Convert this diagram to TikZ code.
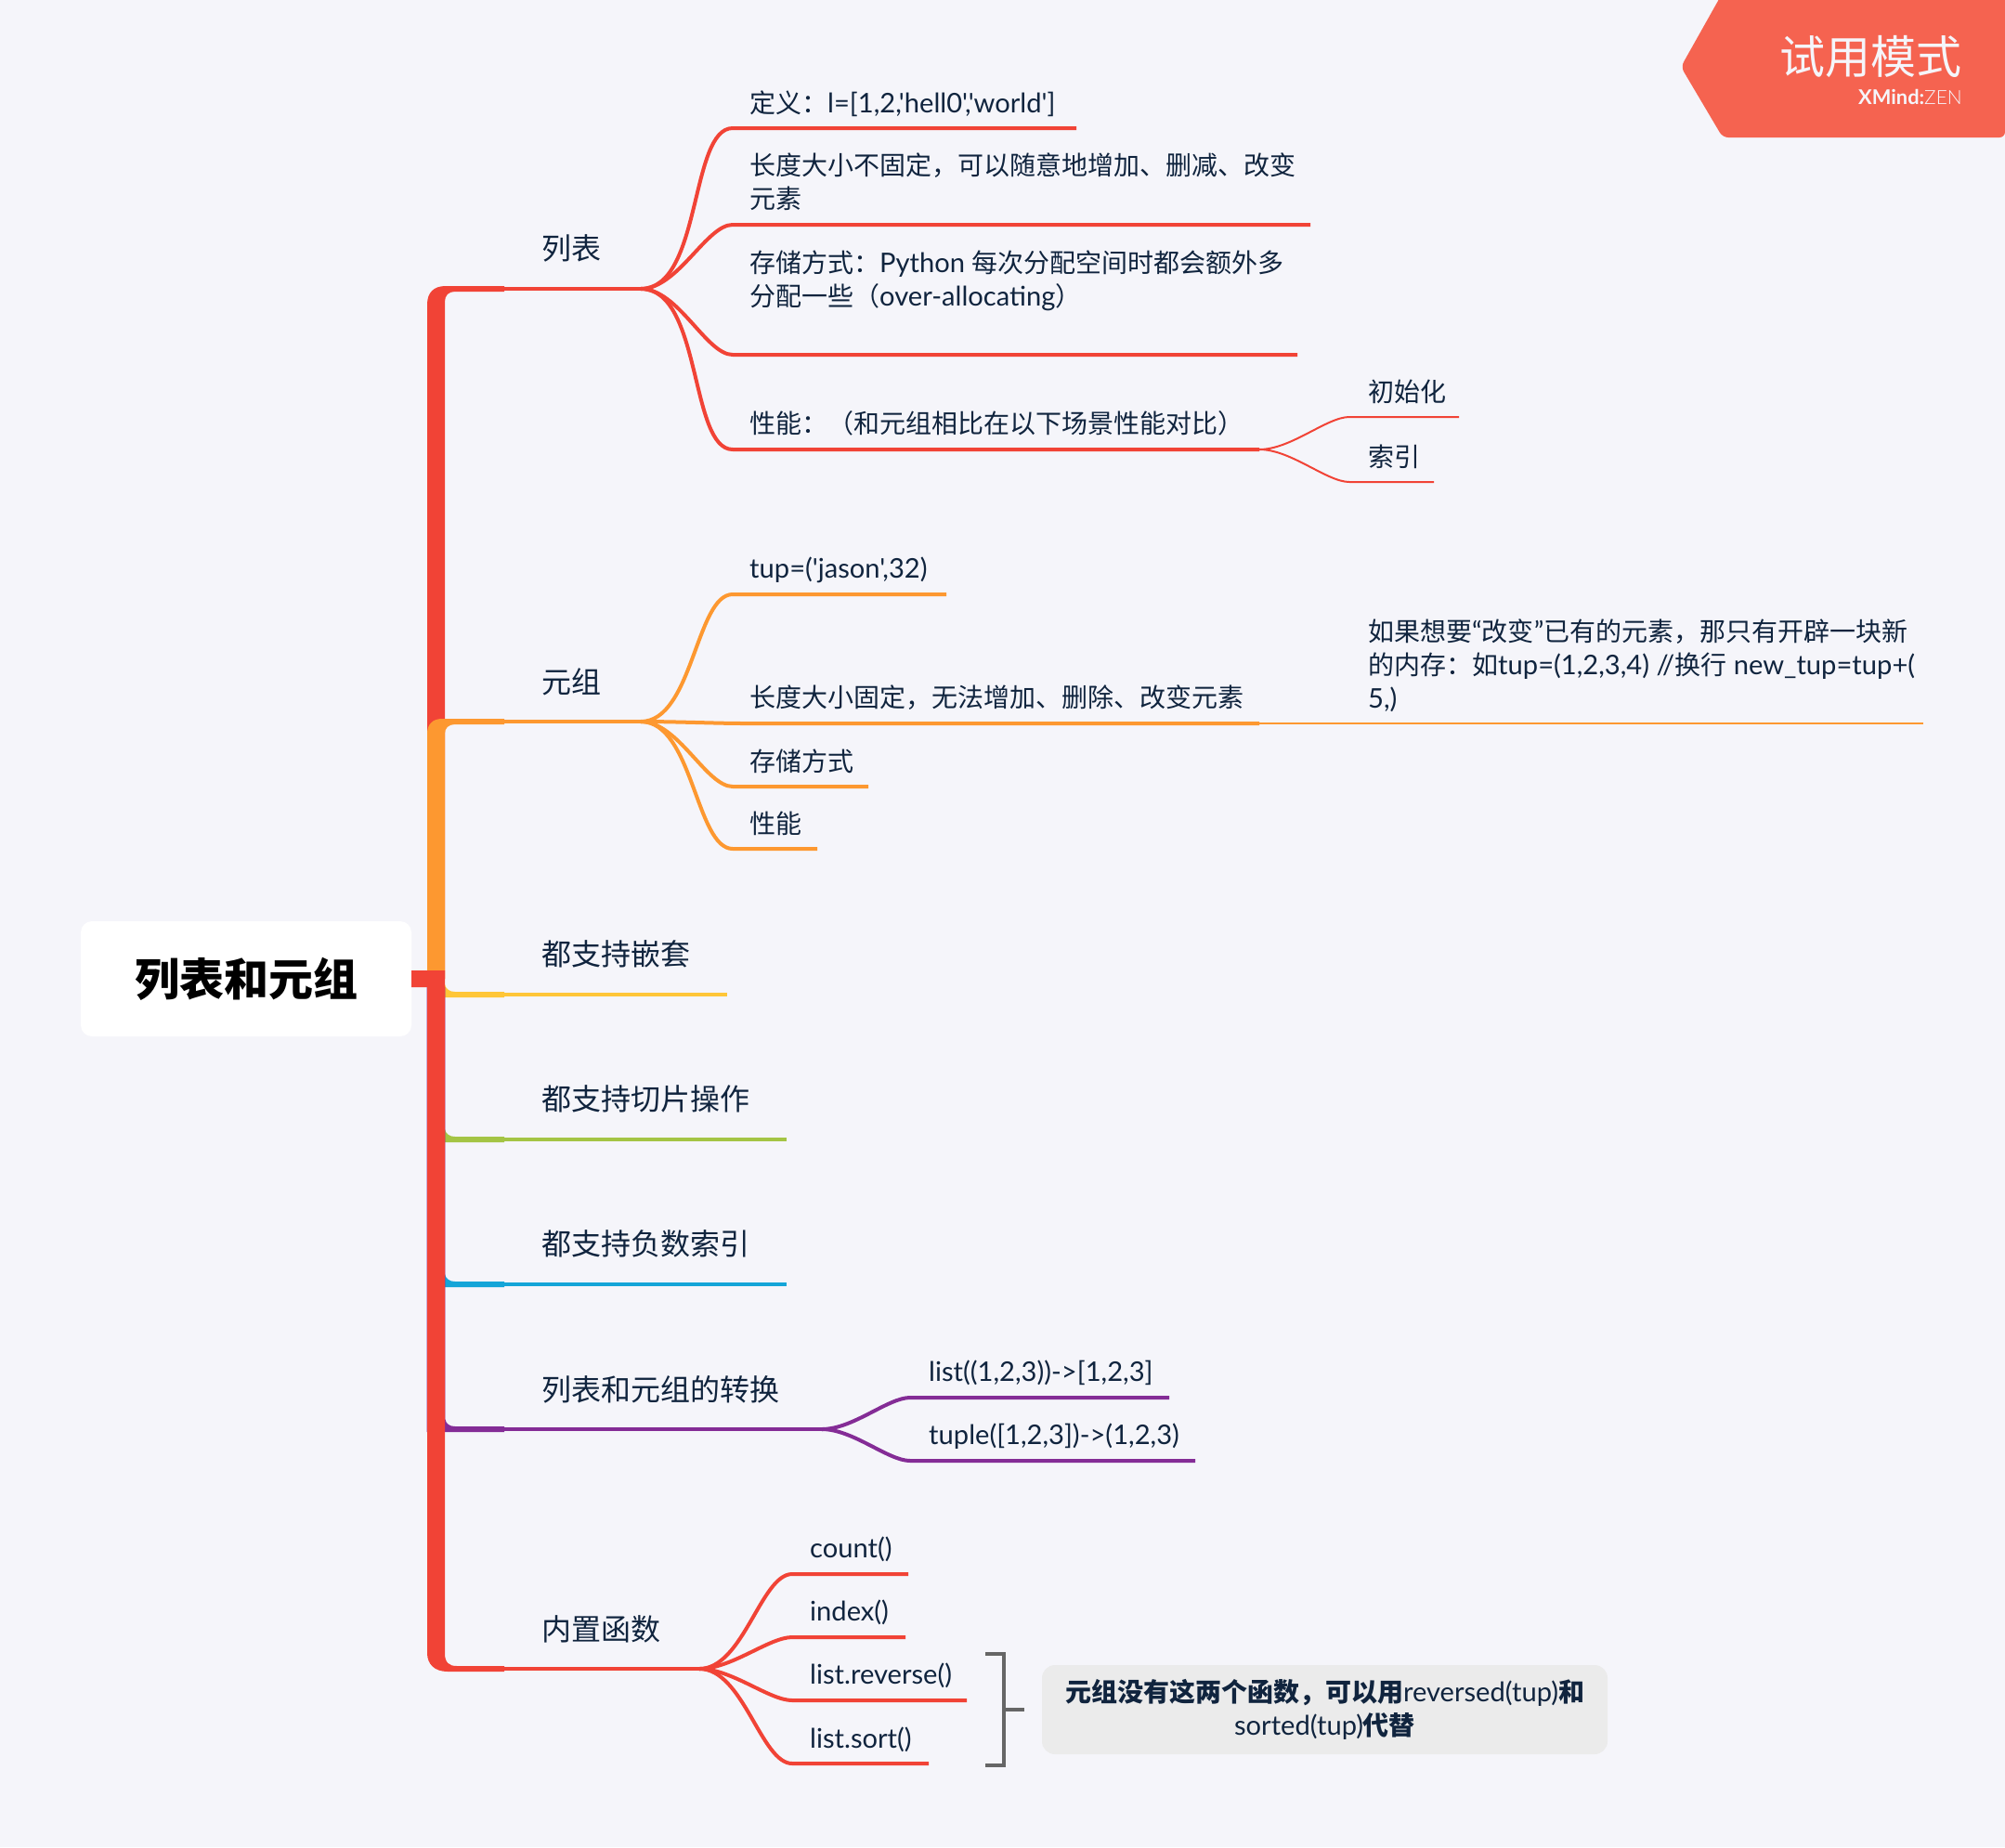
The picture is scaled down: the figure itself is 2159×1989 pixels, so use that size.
\documentclass[tikz,border=0pt]{standalone}
\usepackage{fontspec}
\newfontfamily\latin[Scale=1.04]{Lato}
\newfontfamily\latinlight{Lato Light}
\newfontfamily\cjk{Noto Sans CJK SC}
\newcommand{\zh}[1]{{\cjk #1}}
\newcommand{\zhcomma}{^^^^ff0c}
\newcommand{\zhcolon}{^^^^ff1a}
\newcommand{\zhlp}{^^^^ff08}
\newcommand{\zhrp}{^^^^ff09}
\definecolor{bgc}{HTML}{F5F5FA}
\definecolor{inkc}{HTML}{10243E}
\definecolor{redc}{HTML}{F14336}
\definecolor{orangec}{HTML}{FD9830}
\definecolor{yellowc}{HTML}{FFC638}
\definecolor{greenc}{HTML}{A4C444}
\definecolor{bluec}{HTML}{14A5D8}
\definecolor{purplec}{HTML}{842C96}
\definecolor{tabc}{HTML}{F56350}
\definecolor{notec}{HTML}{EBEBEB}
\definecolor{bracketc}{HTML}{666666}
\tikzset{
  topic/.style={anchor=west, inner sep=0pt, text=inkc, text height=28pt, text depth=4pt, font=\latin\fontsize{32}{40}\selectfont},
  leaf/.style={anchor=west, inner sep=0pt, text=inkc, text height=22pt, text depth=2pt, font=\latin\fontsize{28}{36}\selectfont},
  longleaf/.style={anchor=west, inner sep=0pt, text=inkc, align=left, font=\latin\fontsize{28}{36}\selectfont},
  subline/.style={line width=4pt},
  thinline/.style={line width=2pt},
  curved/.style={out=0, in=180, out looseness=.85, in looseness=.6},
}
\begin{document}
\begin{tikzpicture}[x=1pt, y=-1pt]
\useasboundingbox (0,0) rectangle (2159,1989);
\fill[bgc] (0,0) rectangle (2159,1989);
% trial tab
\fill[tabc, rounded corners=6pt] (1855,-8) -- (2159,-8) -- (2159,148) -- (1855,148) -- (1810,72) -- cycle;
\node[anchor=east, inner sep=0pt, text=bgc, font=\cjk\fontsize{49}{49}\selectfont] (trial) at (2113,61) {试用模式};
\node[anchor=east, inner sep=0pt, text=bgc, font=\latin\fontsize{21}{21}\selectfont] (brand) at (2113,104) {\textbf{XMind:}{\latinlight ZEN}};
% root
\node[fill=white, rounded corners=12pt, minimum width=356pt, minimum height=124pt, inner sep=0pt, font=\cjk\bfseries\fontsize{48}{48}\selectfont] (root) at (265,1054) {列表和元组};
% trunks
\fill[redc] (460,1054) -- (460,328) .. controls (460,315) and (467,308) .. (480,308) -- (543,308) -- (543,314) -- (490,314) .. controls (483,314) and (479,318) .. (479,325) -- (479,1054) -- cycle;
\fill[orangec] (460,1054) -- (460,790) .. controls (460,780) and (466,774) .. (476,774) -- (543,774) -- (543,780) -- (490,780) .. controls (483,780) and (479,784) .. (479,790) -- (479,1054) -- cycle;
\fill[yellowc] (479,1060) .. controls (480,1065) and (484,1068) .. (490,1068) -- (543,1068) -- (543,1074) -- (479,1074) -- cycle;
\fill[greenc] (479,1216) .. controls (480,1221) and (484,1224) .. (490,1224) -- (543,1224) -- (543,1230) -- (479,1230) -- cycle;
\fill[bluec] (479,1372) .. controls (480,1377) and (484,1380) .. (490,1380) -- (543,1380) -- (543,1386) -- (479,1386) -- cycle;
\fill[purplec] (459.6,1063) -- (479.4,1063) -- (479.4,1528) .. controls (480,1533) and (484,1536) .. (490,1536) -- (543,1536) -- (543,1542) -- (459.6,1542) -- cycle;
\fill[redc] (443,1045) -- (479,1045) -- (479,1780) .. controls (479,1790) and (483,1794) .. (492,1794) -- (543,1794) -- (543,1800) -- (482,1800) .. controls (468,1800) and (460,1792) .. (460,1780) -- (460,1063) -- (443,1063) -- cycle;
% branch ends
\coordinate (lieS) at (543,311);
\coordinate (lieB) at (690,311);
\coordinate (yuanS) at (543,777);
\coordinate (yuanB) at (690,777);
\coordinate (qiantaoS) at (543,1071);
\coordinate (qiantaoE) at (783,1071);
\coordinate (qiepianS) at (543,1227);
\coordinate (qiepianE) at (847,1227);
\coordinate (fushuS) at (543,1383);
\coordinate (fushuE) at (847,1383);
\coordinate (zhuanS) at (543,1539);
\coordinate (zhuanB) at (885,1539);
\coordinate (neizhiS) at (543,1797);
\coordinate (neizhiB) at (753,1797);
% ends of the lines under the leaves
\coordinate (dingyiS) at (789,138);
\coordinate (dingyiE) at (1159,138);
\coordinate (changduS) at (789,242);
\coordinate (changduE) at (1411,242);
\coordinate (cunchuS) at (789,382);
\coordinate (cunchuE) at (1397,382);
\coordinate (xingnengS) at (789,484);
\coordinate (xingnengE) at (1356,484);
\coordinate (chushiS) at (1453,449);
\coordinate (chushiE) at (1571,449);
\coordinate (suoyinS) at (1453,519);
\coordinate (suoyinE) at (1544,519);
\coordinate (tupS) at (789,640);
\coordinate (tupE) at (1019,640);
\coordinate (dingS) at (800,779);
\coordinate (dingE) at (1356,779);
\coordinate (gaibianE) at (2071,779);
\coordinate (yuanCunS) at (789,847);
\coordinate (yuanCunE) at (935,847);
\coordinate (yuanXingS) at (789,914);
\coordinate (yuanXingE) at (880,914);
\coordinate (listS) at (980,1505);
\coordinate (listE) at (1259,1505);
\coordinate (tupleS) at (980,1573);
\coordinate (tupleE) at (1287,1573);
\coordinate (countS) at (853,1695);
\coordinate (countE) at (978,1695);
\coordinate (indexS) at (853,1763);
\coordinate (indexE) at (975,1763);
\coordinate (reverseS) at (853,1831);
\coordinate (reverseE) at (1041,1831);
\coordinate (sortS) at (853,1899);
\coordinate (sortE) at (1000,1899);
% connectors
\draw[redc, subline] (lieS) -- (lieB);
\draw[redc, subline] (lieB) to[curved] (dingyiS) -- (dingyiE);
\draw[redc, subline] (lieB) to[curved] (changduS) -- (changduE);
\draw[redc, subline] (lieB) to[curved] (cunchuS) -- (cunchuE);
\draw[redc, subline] (lieB) to[curved] (xingnengS) -- (xingnengE);
\draw[redc, thinline] (xingnengE) to[curved] (chushiS) -- (chushiE);
\draw[redc, thinline] (xingnengE) to[curved] (suoyinS) -- (suoyinE);
\draw[orangec, subline] (yuanS) -- (yuanB);
\draw[orangec, subline] (yuanB) to[curved] (tupS) -- (tupE);
\draw[orangec, subline] (yuanB) to[curved] (dingS) -- (dingE);
\draw[orangec, thinline] (dingE) -- (gaibianE);
\draw[orangec, subline] (yuanB) to[curved] (yuanCunS) -- (yuanCunE);
\draw[orangec, subline] (yuanB) to[curved] (yuanXingS) -- (yuanXingE);
\draw[yellowc, subline] (qiantaoS) -- (qiantaoE);
\draw[greenc, subline] (qiepianS) -- (qiepianE);
\draw[bluec, subline] (fushuS) -- (fushuE);
\draw[purplec, subline] (zhuanS) -- (zhuanB);
\draw[purplec, subline] (zhuanB) to[curved] (listS) -- (listE);
\draw[purplec, subline] (zhuanB) to[curved] (tupleS) -- (tupleE);
\draw[redc, subline] (neizhiS) -- (neizhiB);
\draw[redc, subline] (neizhiB) to[curved] (countS) -- (countE);
\draw[redc, subline] (neizhiB) to[curved] (indexS) -- (indexE);
\draw[redc, subline] (neizhiB) to[curved] (reverseS) -- (reverseE);
\draw[redc, subline] (neizhiB) to[curved] (sortS) -- (sortE);
% topics
\node[topic] (lie) at (583,267) {\zh{列表}};
\node[topic] (yuan) at (583,734) {\zh{元组}};
\node[topic] (qiantao) at (583,1027) {\zh{都支持嵌套}};
\node[topic] (qiepian) at (583,1183) {\zh{都支持切片操作}};
\node[topic] (fushu) at (583,1339) {\zh{都支持负数索引}};
\node[topic] (zhuan) at (583,1496) {\zh{列表和元组的转换}};
\node[topic] (neizhi) at (583,1754) {\zh{内置函数}};
% leaves
\node[leaf] (dingyi) at (807,111) {\zh{定义\zhcolon}l=[1,2,'hell0','world']};
\node[longleaf] (changdu) at (807,196) {\zh{长度大小不固定\zhcomma 可以随意地增加、删减、改变}\\\zh{元素}};
\node[longleaf] (cunchu) at (807,302) {\zh{存储方式\zhcolon}Python \zh{每次分配空间时都会额外多}\\\zh{分配一些\zhlp}over-allocating\zh{\zhrp}};
\node[leaf] (xingneng) at (807,456) {\zh{性能\zhcolon\zhlp 和元组相比在以下场景性能对比\zhrp}};
\node[leaf] (chushi) at (1473,422) {\zh{初始化}};
\node[leaf] (suoyin) at (1473,492) {\zh{索引}};
\node[leaf] (tup) at (807,612) {tup=('jason',32)};
\node[leaf] (ding) at (807,751) {\zh{长度大小固定\zhcomma 无法增加、删除、改变元素}};
\node[longleaf] (gaibian) at (1473,717) {\zh{如果想要}“\zh{改变}”\zh{已有的元素\zhcomma 那只有开辟一块新}\\\zh{的内存\zhcolon 如}tup=(1,2,3,4) //\zh{换行} new\_tup=tup+(\\5,)};
\node[leaf] (yuanCun) at (807,820) {\zh{存储方式}};
\node[leaf] (yuanXing) at (807,887) {\zh{性能}};
\node[leaf] (list) at (1000,1477) {list((1,2,3))->[1,2,3]};
\node[leaf] (tuple) at (1000,1545) {tuple([1,2,3])->(1,2,3)};
\node[leaf] (count) at (872,1667) {count()};
\node[leaf] (index) at (872,1735) {index()};
\node[leaf] (reverse) at (872,1803) {list.reverse()};
\node[leaf] (sort) at (872,1872) {list.sort()};
% bracket and note
\coordinate (brTop) at (1061,1781);
\coordinate (brTopR) at (1081,1781);
\coordinate (brBot) at (1061,1901);
\coordinate (brBotR) at (1081,1901);
\coordinate (brMid) at (1081,1841);
\coordinate (brTick) at (1103,1841);
\draw[bracketc, line width=4pt] (brTop) -- (brTopR) -- (brBotR) -- (brBot);
\draw[bracketc, line width=4pt] (brMid) -- (brTick);
\node[fill=notec, rounded corners=14pt, minimum width=609pt, minimum height=96pt, inner sep=0pt, align=center, text=inkc, font=\latin\fontsize{28}{36}\selectfont] (note) at (1426.5,1841) {{\cjk\bfseries 元组没有这两个函数\zhcomma 可以用}reversed(tup){\cjk\bfseries 和}\\sorted(tup){\cjk\bfseries 代替}};
\end{tikzpicture}
\end{document}
